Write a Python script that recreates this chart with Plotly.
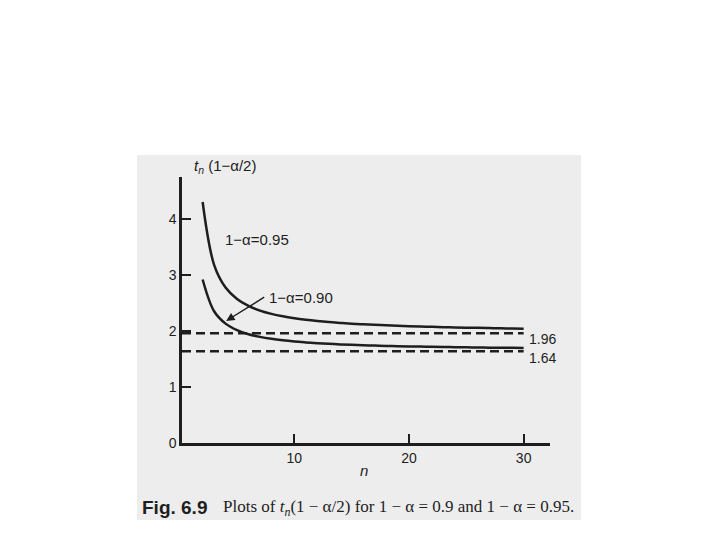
import plotly.graph_objects as go

# degrees of freedom n and t quantiles
n_vals = list(range(2, 31))
t_95 = [4.303, 3.182, 2.776, 2.571, 2.447, 2.365, 2.306, 2.262, 2.228, 2.201,
        2.179, 2.160, 2.145, 2.131, 2.120, 2.110, 2.101, 2.093, 2.086, 2.080,
        2.074, 2.069, 2.064, 2.060, 2.056, 2.052, 2.048, 2.045, 2.042]
t_90 = [2.920, 2.353, 2.132, 2.015, 1.943, 1.895, 1.860, 1.833, 1.812, 1.796,
        1.782, 1.771, 1.761, 1.753, 1.746, 1.740, 1.734, 1.729, 1.725, 1.721,
        1.717, 1.714, 1.711, 1.708, 1.706, 1.703, 1.701, 1.699, 1.697]
limits = [1.96, 1.64]
limit_x = [0.2, 30]
x_ticks = [10, 20, 30]
y_ticks = [0, 1, 2, 3, 4]

ink = "#1e1e1e"
sans = "Liberation Sans, Arial, sans-serif"
serif = "Liberation Serif, Times New Roman, serif"

# page body margin shifts the figure by 8px
OFF = 8
# plot area in screen pixels: x 182..550, y 177..443
L, R, T, B = 182 - OFF, 550 - OFF, 177 - OFF, 443 - OFF


def px(x):
    return (x - OFF - L) / (R - L)


def py(y):
    return (B - (y - OFF)) / (B - T)


fig = go.Figure()
for t in (t_95, t_90):
    fig.add_trace(go.Scatter(x=n_vals, y=t, mode="lines",
                             line=dict(color=ink, width=2.5, shape="spline")))
for lvl in limits:
    fig.add_trace(go.Scatter(x=limit_x, y=[lvl, lvl], mode="lines",
                             line=dict(color=ink, width=2.5, dash="9px,5px")))

# scanned page background
fig.add_shape(type="rect", xref="paper", yref="paper",
              x0=px(137), x1=px(581), y0=py(520), y1=py(155),
              fillcolor="#ededed", line_width=0, layer="below")

ann = [
    dict(x=6.7, y=3.63, text="1−α=0.95", xref="x", yref="y", showarrow=False,
         font=dict(size=15, color=ink, family=sans)),
    dict(x=7.6, y=2.6, text="1−α=0.90", xref="x", yref="y", showarrow=False,
         xanchor="left", font=dict(size=15, color=ink, family=sans)),
    dict(x=4.05, y=2.18, ax=7.5, ay=2.62, axref="x", ayref="y", xref="x", yref="y",
         text="", showarrow=True, arrowhead=2, arrowsize=1.2, arrowwidth=1.4,
         arrowcolor=ink),
    dict(x=30.3, y=limits[0] - 0.1, text=f"{limits[0]:.2f}", xref="x", yref="y",
         showarrow=False, xanchor="left", font=dict(size=14, color=ink, family=sans)),
    dict(x=30.3, y=limits[1] - 0.12, text=f"{limits[1]:.2f}", xref="x", yref="y",
         showarrow=False, xanchor="left", font=dict(size=14, color=ink, family=sans)),
    dict(x=px(192), y=py(166), xref="paper", yref="paper", xanchor="left",
         yanchor="middle", text="<i>t<sub>n</sub></i> (1−α/2)", showarrow=False,
         font=dict(size=15, color=ink, family=sans)),
    dict(x=px(364), y=py(471), xref="paper", yref="paper", xanchor="center",
         yanchor="middle", text="<i>n</i>", showarrow=False,
         font=dict(size=15, color=ink, family=sans)),
    dict(x=px(140), y=py(507), xref="paper", yref="paper", xanchor="left",
         yanchor="middle", text="<b>Fig. 6.9</b>", showarrow=False,
         font=dict(size=19, color=ink, family=sans)),
    dict(x=px(221), y=py(508), xref="paper", yref="paper", xanchor="left",
         yanchor="middle",
         text="Plots of <i>t<sub>n</sub></i>(1 − α/2) for 1 − α = 0.9 and 1 − α = 0.95.",
         showarrow=False, font=dict(size=17, color=ink, family=serif)),
]

fig.update_layout(
    width=720, height=540, showlegend=False,
    paper_bgcolor="white", plot_bgcolor="rgba(0,0,0,0)",
    margin=dict(l=L, r=720 - R, t=T, b=540 - B, autoexpand=False),
    annotations=ann,
    xaxis=dict(range=[0.2, 32.3], tickvals=x_ticks, showgrid=False, zeroline=False,
               showline=True, linecolor=ink, linewidth=2.5, ticks="inside",
               ticklen=9, tickwidth=2, tickcolor=ink,
               tickfont=dict(size=14, color=ink, family=sans)),
    yaxis=dict(range=[0, 4.75], tickvals=y_ticks, showgrid=False, zeroline=False,
               showline=True, linecolor=ink, linewidth=2.5, ticks="inside",
               ticklen=9, tickwidth=2, tickcolor=ink,
               tickfont=dict(size=14, color=ink, family=sans)),
)

fig.write_html("out.html")
